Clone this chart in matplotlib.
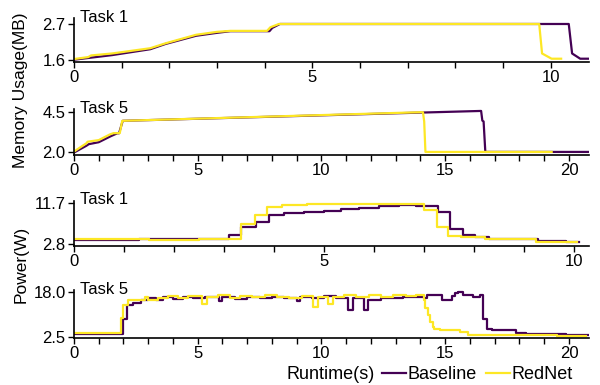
import matplotlib
matplotlib.use("Agg")
import matplotlib.pyplot as plt
from matplotlib.ticker import MultipleLocator

plt.rcParams['font.family'] = ['Liberation Sans', 'DejaVu Sans']

BASE_C = '#440154'
RED_C = '#fde725'

# Task 1 memory (MB)
base1_mem_t = [0, 0.4, 0.8, 1.6, 1.92, 2.56, 3.0, 3.28, 4.1, 4.16, 4.32, 10.38, 10.45, 10.62, 10.8]
base1_mem = [1.61, 1.68, 1.75, 1.93, 2.09, 2.34, 2.43, 2.48, 2.48, 2.58, 2.70, 2.70, 1.80, 1.64, 1.64]
red1_mem_t = [0, 0.3, 0.36, 0.8, 1.6, 1.92, 2.56, 3.0, 3.28, 4.05, 4.12, 4.3, 9.76, 9.82, 10.02, 10.22]
red1_mem = [1.63, 1.69, 1.74, 1.80, 1.96, 2.11, 2.37, 2.46, 2.49, 2.49, 2.60, 2.70, 2.70, 1.80, 1.64, 1.64]

# Task 5 memory (MB)
base5_mem_t = [0, 0.5, 0.6, 1.0, 1.5, 1.75, 1.82, 1.97, 16.45, 16.5, 16.55, 16.62, 20.8]
base5_mem = [1.98, 2.40, 2.50, 2.62, 3.00, 3.17, 3.17, 3.94, 4.55, 3.95, 3.90, 2.02, 2.02]
red5_mem_t = [0, 0.3, 0.5, 0.55, 1.0, 1.45, 1.6, 1.85, 1.95, 14.0, 14.1, 14.15, 14.2, 19.3]
red5_mem = [2.04, 2.35, 2.55, 2.65, 2.75, 3.10, 3.18, 3.18, 3.94, 4.47, 4.47, 3.90, 2.02, 2.02]

# Task 1 power (W)
base1_pow_t = [0, 0.8, 1.3, 1.8, 2.5, 3.1, 3.35, 3.65, 3.9, 4.2, 4.6, 5.0, 5.35, 5.7,
               6.1, 6.5, 6.85, 7.29, 7.52, 7.78, 8.03, 8.3, 9.29, 9.85, 10.1]
base1_pow = [3.6, 3.75, 3.9, 3.8, 3.85, 4.8, 6.5, 7.7, 9.2, 9.5, 9.8, 10.1, 10.4, 10.7,
             11.1, 11.3, 11.2, 9.8, 6.0, 4.7, 4.3, 3.95, 3.5, 3.15, 3.15]
red1_pow_t = [0, 0.5, 1.5, 2.5, 3.35, 3.62, 3.87, 4.17, 4.66, 7.0, 7.26, 7.48, 7.74, 8.23, 9.25, 10.07]
red1_pow = [3.95, 3.85, 3.7, 3.9, 7.15, 9.2, 10.8, 11.3, 11.5, 10.2, 6.5, 4.6, 4.35, 3.8, 3.27, 3.27]

# Task 5 power (W)
base5_pow_t = [0, 1.0, 2.0, 2.15, 2.4, 2.7, 3.0, 3.3, 3.6, 4.0, 4.4, 4.8, 5.3, 5.84, 5.97,
               6.5, 7.0, 7.5, 8.0, 8.5, 9.0, 9.13, 9.6, 10.1, 10.6, 11.07, 11.27, 11.71,
               11.87, 12.4, 13.3, 14.13, 14.27, 14.87, 15.27, 15.4, 15.5, 15.73, 16.13,
               16.4, 16.51, 16.7, 16.87, 17.87, 18.27, 19.87, 20.8]
base5_pow = [3.6, 3.7, 8.9, 13.6, 14.2, 15.3, 16.0, 15.3, 16.3, 15.8, 16.5, 15.9, 16.5, 15.0,
             16.3, 15.7, 16.4, 15.9, 16.5, 16.0, 15.0, 16.3, 16.0, 16.6, 16.1, 11.8, 16.2,
             11.8, 15.3, 15.9, 16.5, 15.9, 17.1, 15.3, 16.8, 17.6, 18.2, 17.1, 16.5,
             17.1, 8.9, 5.4, 4.8, 4.0, 3.4, 3.1, 3.1]
red5_pow_t = [0, 1.0, 1.88, 2.0, 2.2, 2.85, 3.0, 3.4, 3.8, 4.2, 4.6, 5.17, 5.37, 5.8, 6.3,
              6.7, 7.2, 7.7, 8.2, 8.7, 9.2, 9.66, 9.87, 10.25, 10.45, 10.9, 11.4, 11.9,
              12.4, 12.9, 13.4, 13.8, 14.13, 14.2, 14.3, 14.4, 14.5, 14.55, 14.8, 15.6,
              15.9, 19.5, 20.7]
red5_pow = [3.8, 3.9, 9.1, 13.6, 15.3, 16.5, 15.5, 16.2, 16.8, 16.0, 16.6, 13.8, 16.3, 16.9,
            16.2, 16.7, 16.3, 16.9, 16.4, 16.0, 16.6, 13.0, 16.5, 13.8, 16.4, 16.9, 16.5,
            16.9, 16.5, 16.9, 16.6, 16.9, 15.3, 12.4, 10.0, 7.7, 6.0, 5.4, 4.8, 4.2,
            3.3, 3.0, 3.0]

fig = plt.figure(figsize=(6, 3.85), dpi=100)
boxes = [
    [0.1233, 0.839, 0.858, 0.114],
    [0.1233, 0.5974, 0.858, 0.1195],
    [0.1233, 0.361, 0.858, 0.1177],
    [0.1233, 0.122, 0.858, 0.1247],
]
axs = [fig.add_axes(b) for b in boxes]

panels = [
    (base1_mem_t, base1_mem, red1_mem_t, red1_mem, False, 'Task 1', (0, 10.8), (1.54, 2.88), [1.6, 2.7], ['1.6', '2.7']),
    (base5_mem_t, base5_mem, red5_mem_t, red5_mem, False, 'Task 5', (0, 20.8), (1.83, 4.67), [2.0, 4.5], ['2.0', '4.5']),
    (base1_pow_t, base1_pow, red1_pow_t, red1_pow, True, 'Task 1', (0, 10.3), (2.36, 12.29), [2.8, 11.7], ['2.8', '11.7']),
    (base5_pow_t, base5_pow, red5_pow_t, red5_pow, True, 'Task 5', (0, 20.8), (2.15, 18.8), [2.5, 18.0], ['2.5', '18.0']),
]

for ax, (bt, bv, rt, rv, step, title, xl, yl, yt, ytl) in zip(axs, panels):
    if step:
        ax.step(bt, bv, where='post', color=BASE_C, lw=1.6)
        ax.step(rt, rv, where='post', color=RED_C, lw=1.6)
    else:
        ax.plot(bt, bv, color=BASE_C, lw=1.6)
        ax.plot(rt, rv, color=RED_C, lw=1.6)
    ax.set_xlim(*xl)
    ax.set_ylim(*yl)
    ax.set_yticks(yt)
    ax.set_yticklabels(ytl)
    ax.xaxis.set_major_locator(MultipleLocator(5))
    ax.xaxis.set_minor_locator(MultipleLocator(1))
    ax.tick_params(axis='both', which='both', length=4, width=1, labelsize=12, pad=2)
    ax.spines['top'].set_visible(False)
    ax.spines['right'].set_visible(False)
    ax.spines['left'].set_linewidth(1.2)
    ax.spines['bottom'].set_linewidth(1.2)
    ax.text(0.012, 0.92, title, transform=ax.transAxes, fontsize=12, va='baseline')

fig.text(0.035, 0.766, 'Memory Usage(MB)', rotation=90, ha='center', va='center', fontsize=12.5)
fig.text(0.035, 0.314, 'Power(W)', rotation=90, ha='center', va='center', fontsize=12.5)
fig.text(0.478, 0.026, 'Runtime(s)', ha='left', va='center', fontsize=13)

handles = [plt.Line2D([], [], color=BASE_C, lw=1.6), plt.Line2D([], [], color=RED_C, lw=1.6)]
fig.legend(handles, ['Baseline', 'RedNet'], loc='center left', bbox_to_anchor=(0.637, 0.026),
           ncol=2, frameon=False, fontsize=13, handlelength=1.3, handletextpad=0.12,
           columnspacing=0.5, borderpad=0, borderaxespad=0)

fig.savefig('out.png', dpi=100)
